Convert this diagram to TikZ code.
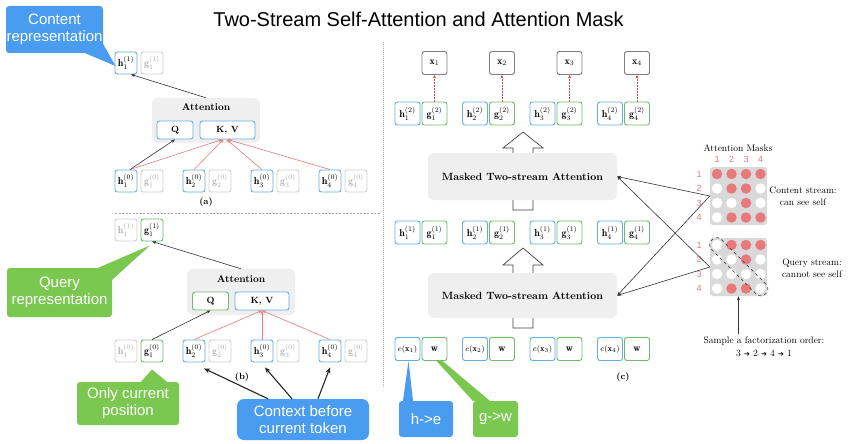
\documentclass[tikz,border=0pt]{standalone}
\usepackage{fontspec}
\newfontfamily\sansf{Liberation Sans}
\newfontfamily\dejavu{DejaVu Sans}
\usetikzlibrary{arrows.meta,calc}
\definecolor{bblue}{RGB}{100,175,225}
\definecolor{bgreen}{RGB}{110,185,110}
\definecolor{bgray}{RGB}{208,208,208}
\definecolor{tgray}{RGB}{175,175,175}
\definecolor{cblue}{RGB}{74,156,240}
\definecolor{cgreen}{RGB}{122,200,80}
\definecolor{mred}{RGB}{232,121,123}
\definecolor{mgray}{RGB}{217,217,217}
\definecolor{afill}{RGB}{239,239,239}
\definecolor{rarrow}{RGB}{228,125,125}
\definecolor{rdark}{RGB}{210,70,70}
\definecolor{xgray}{RGB}{125,125,125}
\tikzset{
  tok/.style={rounded corners=2.5pt, line width=0.9pt, minimum width=22pt, minimum height=22pt, inner sep=0pt, fill=white, font=\fontsize{10}{11}\selectfont},
  hb/.style={tok, draw=bblue},
  gb/.style={tok, draw=bgreen},
  nb/.style={tok, draw=bgray, text=tgray},
  xb/.style={tok, draw=xgray},
  wide/.style={minimum width=25pt, minimum height=23pt},
  qk/.style={minimum height=18pt, font=\bfseries\fontsize{9}{10}\selectfont},
  attn/.style={fill=afill, rounded corners=6pt, inner sep=0pt},
  attl/.style={font=\bfseries\fontsize{10}{12}\selectfont},
  callb/.style={fill=cblue, text=white, font=\sansf\fontsize{15}{17}\selectfont, align=center, rounded corners=3pt, inner sep=0pt},
  callg/.style={callb, fill=cgreen},
  blk/.style={-{Stealth[length=4pt,width=3pt]}, draw=black!80, line width=0.6pt},
  redarr/.style={-{Stealth[length=4pt,width=3pt]}, draw=rarrow, line width=0.6pt},
  ctx/.style={-{Stealth[length=6pt,width=5pt]}, draw=black!85, line width=1.1pt},
  rdash/.style={-{Stealth[length=3.5pt,width=3pt]}, draw=rdark, line width=1pt, dash pattern=on 2pt off 1pt},
  hollow/.style={draw=black!75, fill=white, line width=0.7pt},
  dot/.style={circle, minimum size=10.5pt, inner sep=0pt},
  mlab/.style={font=\fontsize{9.5}{12}\selectfont, align=center},
  num/.style={text=mred, font=\sansf\fontsize{9}{10}\selectfont},
  lab/.style={font=\bfseries\fontsize{9}{10}\selectfont}
}
\begin{document}
\begin{tikzpicture}[x=1pt,y=-1pt]
\useasboundingbox[fill=white] (0,0) rectangle (852,444);

% title
\node[font=\sansf\fontsize{20}{24}\selectfont] (title) at (418.5,19) {Two-Stream Self-Attention and Attention Mask};

% ---------------- (a) ----------------
\node[hb] (a_h11) at (126,63) {$\mathbf{h}_1^{(1)}$};
\node[nb] (a_g11) at (152,63) {$\mathbf{g}_1^{(1)}$};
\foreach \i/\hx in {1/126,2/194,3/262,4/330}{
  \node[hb] (a_h\i) at (\hx,181) {$\mathbf{h}_\i^{(0)}$};
  \node[nb] (a_g\i) at (\hx+26,181) {$\mathbf{g}_\i^{(0)}$};
}
\node[attn, minimum width=108pt, minimum height=45pt] (a_att) at (206,120.5) {};
\node[attl] (a_attl) at (206,107) {Attention};
\node[hb, qk, minimum width=36pt] (a_q) at (175,130) {Q};
\node[hb, qk, minimum width=55pt] (a_kv) at (227.5,130) {K, V};
\draw[redarr] ([xshift=4pt]a_h1.north) -- ([xshift=-5pt]a_kv.south);
\draw[redarr] (a_h2.north) -- ([xshift=-4pt]a_kv.south);
\draw[redarr] (a_h3.north) -- ([xshift=-1pt]a_kv.south);
\draw[redarr] (a_h4.north) -- ([xshift=0pt]a_kv.south);
\draw[blk] ([xshift=4pt]a_h1.north) -- (a_q.south);
\draw[blk] (a_att.north) -- ([xshift=5pt]a_h11.south);
\node[lab] (a_lab) at (206,202) {(a)};
\coordinate (sepl) at (115,213);
\coordinate (sepr) at (380,213);
\draw[draw=gray!70, line width=0.6pt, dash pattern=on 2pt off 1.5pt] (sepl) -- (sepr);

% callout: content representation
\node[callb, minimum width=97pt, minimum height=47pt] (c_cont) at (54.5,29.5) {Content\\representation};
\fill[cblue] ([xshift=-18pt]c_cont.south east) -- ([yshift=9pt]c_cont.south east) -- ([xshift=1pt,yshift=-3pt]a_h11.west) -- cycle;

% ---------------- (b) ----------------
\node[nb] (b_h11) at (126,230) {$\mathbf{h}_1^{(1)}$};
\node[gb] (b_g11) at (152,230) {$\mathbf{g}_1^{(1)}$};
\node[nb] (b_h1) at (126,351) {$\mathbf{h}_1^{(0)}$};
\node[gb] (b_g1) at (152,351) {$\mathbf{g}_1^{(0)}$};
\foreach \i/\hx in {2/194,3/262,4/330}{
  \node[hb] (b_h\i) at (\hx,351) {$\mathbf{h}_\i^{(0)}$};
  \node[nb] (b_g\i) at (\hx+26,351) {$\mathbf{g}_\i^{(0)}$};
}
\node[attn, minimum width=108pt, minimum height=46pt] (b_att) at (241,292) {};
\node[attl] (b_attl) at (241,279) {Attention};
\node[gb, qk, minimum width=36pt] (b_q) at (210.5,301) {Q};
\node[hb, qk, minimum width=54pt] (b_kv) at (262,301) {K, V};
\draw[redarr] (b_h2.north) -- (b_kv.south);
\draw[redarr] (b_h3.north) -- (b_kv.south);
\draw[redarr] (b_h4.north) -- (b_kv.south);
\draw[blk] (b_g1.north) -- (b_q.south);
\draw[blk] (b_att.north) -- (b_g11.south);

\node[callg, minimum width=105pt, minimum height=49pt] (c_query) at (59.5,292.5) {Query\\representation};
\fill[cgreen] ([xshift=-14pt]c_query.north east) -- ([yshift=-12pt]c_query.north east) -- ([xshift=-2pt,yshift=-4pt]b_g11.south) -- cycle;

\node[callg, minimum width=102pt, minimum height=43pt] (c_only) at (128,403.5) {Only current\\position};
\fill[cgreen] ([xshift=13pt]c_only.north) -- ([xshift=39pt]c_only.north) -- ([yshift=-7pt]b_g1.south) -- cycle;

\node[callb, rounded corners=7pt, minimum width=132pt, minimum height=41pt] (c_ctx) at (303,419.5) {Context before\\current token};
\draw[ctx] ([xshift=-35pt]c_ctx.north) -- ([xshift=10pt,yshift=-6pt]b_h2.south);
\draw[ctx] ([xshift=-11pt]c_ctx.north) -- ([xshift=3pt,yshift=-5pt]b_h3.south);
\draw[ctx] ([xshift=15pt]c_ctx.north) -- ([yshift=-5pt]b_h4.south);
\node[lab] (b_lab) at (242,377) {(b)};

% ---------------- (c) ----------------
\coordinate (divt) at (383,42);
\coordinate (divb) at (383,387);
\draw[draw=gray!60, line width=0.8pt, dash pattern=on 0.8pt off 1.2pt] (divt) -- (divb);

\foreach \i/\hx in {1/407.5,2/475,3/542.5,4/610}{
  \node[xb, wide] (c_x\i) at (\hx+27,63) {$\mathbf{x}_\i$};
  \node[hb, wide] (c_h2\i) at (\hx,113.5) {$\mathbf{h}_\i^{(2)}$};
  \node[gb, wide] (c_g2\i) at (\hx+27,113.5) {$\mathbf{g}_\i^{(2)}$};
  \node[hb, wide] (c_h1\i) at (\hx,232.5) {$\mathbf{h}_\i^{(1)}$};
  \node[gb, wide] (c_g1\i) at (\hx+27,232.5) {$\mathbf{g}_\i^{(1)}$};
  \node[hb, wide, font=\fontsize{8.5}{9}\selectfont] (c_e\i) at (\hx,349) {$e(\mathbf{x}_\i)$};
  \node[gb, wide] (c_w\i) at (\hx+27,349) {$\mathbf{w}$};
  \draw[rdash] (c_g2\i.north) -- (c_x\i.south);
}
% hollow arrows
\draw[hollow] (513,210) -- (513,148) -- (503,148) -- (523,132) -- (543,148) -- (533,148) -- (533,210) -- cycle;
\draw[hollow] (513,328) -- (513,265) -- (503,265) -- (523,248) -- (543,265) -- (533,265) -- (533,328) -- cycle;
\node[attn, minimum width=189pt, minimum height=47pt, font=\bfseries\fontsize{10.5}{12}\selectfont] (c_att2) at (522.5,176.5) {Masked Two-stream Attention};
\node[attn, minimum width=189pt, minimum height=45pt, font=\bfseries\fontsize{10.5}{12}\selectfont] (c_att1) at (522.5,295.5) {Masked Two-stream Attention};
\node[lab] (c_lab) at (623,377) {(c)};

\node[callb, minimum width=54pt, minimum height=36pt] (c_he) at (426,419) {h->e};
\fill[cblue] ([xshift=-23pt]c_he.north) -- ([xshift=-13pt]c_he.north) -- ([xshift=1pt]c_e1.south) -- cycle;
\node[callg, minimum width=45pt, minimum height=36pt] (c_gw) at (495.5,419) {g->w};
\fill[cgreen] ([xshift=2pt]c_w1.south) -- ([xshift=8pt]c_w1.south) -- ([xshift=17pt]c_gw.north west) -- (c_gw.north west) -- cycle;

% ---------------- masks ----------------
\node[mlab] (m_title) at (738,148) {Attention Masks};
\node[fill=mgray, rounded corners=3pt, minimum width=57pt, minimum height=58pt, inner sep=0pt] (m_c) at (738.5,196) {};
\node[fill=mgray, rounded corners=3pt, minimum width=57pt, minimum height=58pt, inner sep=0pt] (m_q) at (738.5,267) {};
\foreach \c/\cx in {1/717,2/731.5,3/746,4/760.5}{
  \node[num] (m_col\c) at (\cx,159) {\c};
}
\foreach \r/\ry/\qy in {1/174/245,2/188.5/259.5,3/203/274,4/217.5/288.5}{
  \node[num] (m_rc\r) at (699,\ry) {\r};
  \node[num] (m_rq\r) at (699,\qy) {\r};
}
% content stream mask
\foreach \r/\ry/\pat in {1/174/{1,1,1,1},2/188.5/{0,1,1,0},3/203/{0,0,1,0},4/217.5/{0,1,1,1}}{
  \foreach \v [count=\c] in \pat {
    \pgfmathsetmacro{\cx}{717+14.5*(\c-1)}
    \ifnum\v=1
      \node[dot, fill=mred] (mc\r\c) at (\cx,\ry) {};
    \else
      \node[dot, fill=white] (mc\r\c) at (\cx,\ry) {};
    \fi
  }
}
% query stream mask
\foreach \r/\ry/\pat in {1/245/{0,1,1,1},2/259.5/{0,0,1,0},3/274/{0,0,0,0},4/288.5/{0,1,1,0}}{
  \foreach \v [count=\c] in \pat {
    \pgfmathsetmacro{\cx}{717+14.5*(\c-1)}
    \ifnum\v=1
      \node[dot, fill=mred] (mq\r\c) at (\cx,\ry) {};
    \else
      \node[dot, fill=white] (mq\r\c) at (\cx,\ry) {};
    \fi
  }
}
\node[draw=black!70, dashed, line width=0.7pt, rounded corners=6.5pt, minimum width=76pt, minimum height=14pt, inner sep=0pt, rotate=-45] (m_band) at (738.75,266.75) {};

\node[mlab] (m_ct) at (803,196) {Content stream:\\can see self};
\node[mlab] (m_qt) at (812,268) {Query stream:\\cannot see self};
\node[mlab, font=\fontsize{9.5}{13}\selectfont] (m_s) at (764,347) {Sample a factorization order:\\3 {\dejavu\fontsize{7}{8}\selectfont ➔} 2 {\dejavu\fontsize{7}{8}\selectfont ➔} 4 {\dejavu\fontsize{7}{8}\selectfont ➔} 1};
\draw[blk] (m_q.south |- m_s.north) -- (m_q.south);

\draw[blk] (m_c.west) -- (c_att2.east);
\draw[blk] (m_c.west) -- (c_att1.east);
\draw[blk] (m_q.west) -- (c_att2.east);
\draw[blk] (m_q.west) -- (c_att1.east);
\end{tikzpicture}
\end{document}
